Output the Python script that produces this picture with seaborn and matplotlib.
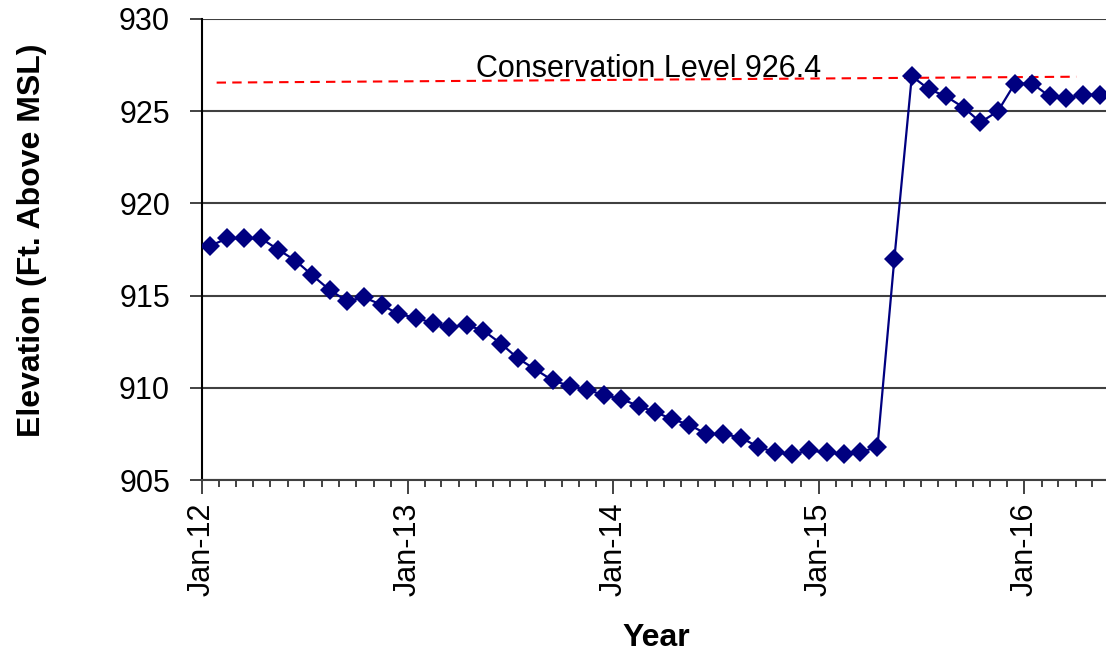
import matplotlib
matplotlib.use("Agg")
import matplotlib.pyplot as plt
import matplotlib.dates as mdates
import seaborn as sns
import pandas as pd

# monthly readings, Jan-12 .. May-16 (plotted mid-month)
month_starts = pd.date_range("2012-01-01", "2016-05-01", freq="MS")
elevation = [
    917.7, 918.1, 918.1, 918.1, 917.5, 916.9, 916.1, 915.3, 914.7, 914.9, 914.5, 914.0,
    913.8, 913.5, 913.3, 913.4, 913.1, 912.4, 911.6, 911.0, 910.4, 910.1, 909.9, 909.6,
    909.4, 909.0, 908.7, 908.3, 908.0, 907.5, 907.5, 907.3, 906.8, 906.5, 906.4, 906.6,
    906.5, 906.4, 906.5, 906.8, 917.0, 926.9, 926.2, 925.8, 925.2, 924.4, 925.0, 926.5,
    926.5, 925.8, 925.7, 925.9, 925.9,
]
conservation_dates = pd.to_datetime(["2012-01-27", "2016-04-02"])
conservation_level = [926.55, 926.87]
conservation_text = "Conservation Level 926.4"

df = pd.DataFrame({"date": month_starts + pd.Timedelta(days=14), "elevation": elevation})

sns.set_theme(style="white")
plt.rcParams["font.family"] = ["Liberation Sans", "DejaVu Sans"]
plt.rcParams["text.color"] = "black"
plt.rcParams["axes.labelcolor"] = "black"
plt.rcParams["xtick.color"] = "black"
plt.rcParams["ytick.color"] = "black"

fig = plt.figure(figsize=(11.06, 6.58), dpi=100)
ax = fig.add_axes([202 / 1106, 1 - 480 / 658, 1 - 202 / 1106, 461 / 658])

for v in range(905, 931, 5):
    ax.axhline(v, color="#404040", lw=1.5, zorder=1)

ax.plot(conservation_dates, conservation_level, color="red", ls=(0, (4.5, 3)), lw=1.5, zorder=2)
ax.text(pd.Timestamp("2014-03-05"), 926.85, conservation_text, ha="center", va="baseline",
        fontsize=22, color="black")

sns.lineplot(data=df, x="date", y="elevation", ax=ax, color="#000080", lw=1.6,
             marker="D", markersize=10, markeredgewidth=0, zorder=3)

ax.set_ylim(905, 930)
ax.set_xlim(pd.Timestamp("2012-01-01"), pd.Timestamp("2016-05-25"))
ax.set_yticks(range(905, 931, 5))

ax.xaxis.set_major_locator(mdates.YearLocator())
ax.xaxis.set_major_formatter(mdates.DateFormatter("%b-%y"))
ax.xaxis.set_minor_locator(mdates.MonthLocator())
ax.tick_params(axis="x", which="major", direction="out", length=10, width=1.2,
               bottom=True, labelsize=22, labelrotation=90, pad=6, color="#222222")
ax.tick_params(axis="x", which="minor", direction="out", length=5, width=1.2,
               bottom=True, color="#222222")
ax.tick_params(axis="y", direction="out", length=9, width=1.2, left=True,
               labelsize=22, pad=14, color="#222222")

for s in ["top", "right"]:
    ax.spines[s].set_visible(False)
ax.spines["left"].set_color("black")
ax.spines["left"].set_linewidth(1.5)
ax.spines["bottom"].set_color("#404040")
ax.spines["bottom"].set_linewidth(1.5)

ax.set_xlabel("Year", fontsize=23, fontweight="bold")
ax.set_ylabel("Elevation (Ft. Above MSL)", fontsize=23, fontweight="bold")
ax.xaxis.set_label_coords(0.503, -0.31)
ax.yaxis.set_label_coords(-0.172, 0.52)

fig.savefig("out.png", dpi=100)
